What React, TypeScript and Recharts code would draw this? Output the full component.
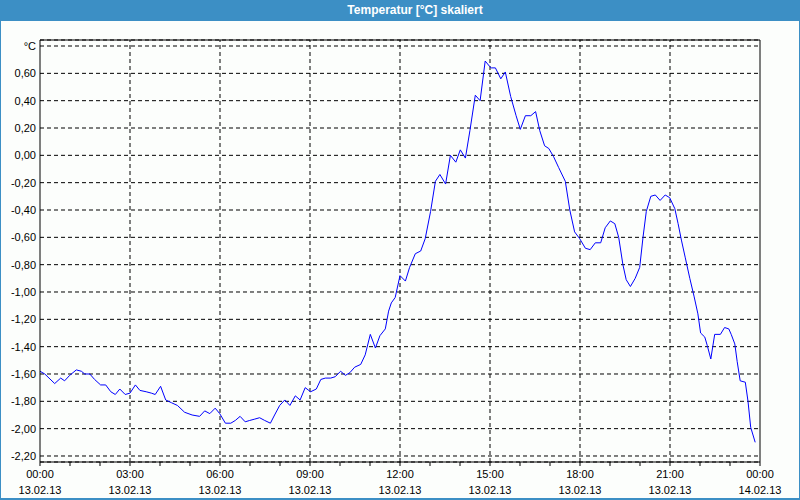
import React from "react";
import { LineChart, Line, XAxis, YAxis, CartesianGrid, ReferenceLine } from "recharts";

const chartTitle = "Temperatur [°C] skaliert";

// hours since 13.02.13 00:00
const times = [
  0.0, 0.16, 0.49, 0.69, 0.82, 0.99, 1.21, 1.38, 1.49, 1.66, 1.82, 2.02, 2.19, 2.36, 2.51, 2.66, 2.84,
  3.0, 3.18, 3.33, 3.54, 3.71, 3.84, 4.02, 4.19, 4.38, 4.58, 4.82, 5.07, 5.32, 5.49, 5.66, 5.84, 5.99,
  6.18, 6.36, 6.51, 6.67, 6.84, 6.99, 7.16, 7.32, 7.49, 7.68, 7.82, 7.99, 8.16, 8.33, 8.51, 8.67, 8.84,
  9.02, 9.21, 9.36, 9.51, 9.69, 9.84, 10.02, 10.18, 10.33, 10.49, 10.69, 10.84, 11.01, 11.18, 11.33,
  11.51, 11.62, 11.71, 11.84, 12.0, 12.18, 12.32, 12.51, 12.69, 12.84, 13.02, 13.18, 13.33, 13.52,
  13.68, 13.86, 14.01, 14.18, 14.33, 14.51, 14.67, 14.84, 14.99, 15.04, 15.18, 15.36, 15.51, 15.69,
  15.87, 16.01, 16.18, 16.36, 16.52, 16.66, 16.82, 16.96, 17.12, 17.29, 17.51, 17.66, 17.82, 17.99,
  18.18, 18.34, 18.51, 18.69, 18.84, 19.01, 19.16, 19.29, 19.43, 19.54, 19.68, 19.84, 19.99, 20.1,
  20.21, 20.36, 20.51, 20.67, 20.84, 20.99, 21.16, 21.27, 21.38, 21.51, 21.66, 21.8, 21.93, 22.02,
  22.16, 22.24, 22.36, 22.49, 22.68, 22.82, 22.96, 23.04, 23.16, 23.24, 23.34, 23.51, 23.6, 23.69,
  23.84,
];

const temps = [
  -1.58, -1.6, -1.67, -1.63, -1.65, -1.61, -1.57, -1.58, -1.6, -1.6, -1.64, -1.68, -1.68, -1.73, -1.75, -1.71, -1.75,
  -1.74, -1.68, -1.72, -1.73, -1.74, -1.75, -1.69, -1.79, -1.81, -1.83, -1.88, -1.9, -1.91, -1.87, -1.89, -1.85, -1.89,
  -1.96, -1.96, -1.94, -1.91, -1.95, -1.94, -1.93, -1.92, -1.94, -1.96, -1.9, -1.83, -1.79, -1.83, -1.76, -1.79, -1.7,
  -1.73, -1.71, -1.64, -1.63, -1.63, -1.62, -1.58, -1.61, -1.59, -1.55, -1.53, -1.46, -1.31, -1.41, -1.32,
  -1.27, -1.14, -1.08, -1.04, -0.88, -0.92, -0.82, -0.72, -0.7, -0.61, -0.41, -0.19, -0.14, -0.21,
  0.0, -0.05, 0.04, -0.02, 0.18, 0.44, 0.4, 0.69, 0.65, 0.64, 0.64, 0.56, 0.61, 0.43,
  0.29, 0.19, 0.29, 0.29, 0.32, 0.18, 0.07, 0.05, -0.01, -0.09, -0.19, -0.4, -0.56, -0.61,
  -0.68, -0.69, -0.64, -0.64, -0.53, -0.48, -0.5, -0.6, -0.8, -0.91, -0.96, -0.9, -0.82, -0.6,
  -0.41, -0.3, -0.29, -0.33, -0.29, -0.31, -0.39, -0.5, -0.62, -0.75, -0.9, -1.03, -1.16, -1.3,
  -1.33, -1.39, -1.49, -1.31, -1.31, -1.26, -1.27, -1.31, -1.38, -1.51, -1.65, -1.66, -1.8, -1.99,
  -2.1,
];

const xHourTicks = [0, 1, 2, 3, 4, 5, 6, 7, 8, 9, 10, 11, 12, 13, 14, 15, 16, 17, 18, 19, 20, 21, 22, 23, 24];
const xGridHours = [3, 6, 9, 12, 15, 18, 21];
const xTimeLabels = ["00:00", "03:00", "06:00", "09:00", "12:00", "15:00", "18:00", "21:00", "00:00"];
const xDateLabels = ["13.02.13", "13.02.13", "13.02.13", "13.02.13", "13.02.13", "13.02.13", "13.02.13", "13.02.13", "14.02.13"];
const yTicks = [-2.2, -2.0, -1.8, -1.6, -1.4, -1.2, -1.0, -0.8, -0.6, -0.4, -0.2, 0.0, 0.2, 0.4, 0.6, 0.8];
const yDomain: [number, number] = [-2.244, 0.844];
const yUnitLabel = "°C";

const data = times.map((t, i) => ({ t, v: temps[i] }));

const FONT = "'Liberation Sans', Arial, sans-serif";
const BLUE = "#3C8FC5";

const formatY = (v: number) => {
  if (Math.abs(v - 0.8) < 1e-6) return yUnitLabel;
  return v.toFixed(2).replace(".", ",");
};

const XTick = (props: any) => {
  const { x, y, payload } = props;
  const h = Math.round(payload.value);
  if (h % 3 !== 0) return <g />;
  const idx = h / 3;
  return (
    <g>
      <text x={x} y={y} textAnchor="middle" fontSize={11} fontFamily={FONT} fill="#000">
        <tspan x={x} dy={10}>{xTimeLabels[idx]}</tspan>
        <tspan x={x} dy={16}>{xDateLabels[idx]}</tspan>
      </text>
    </g>
  );
};

export default function App() {
  return (
    <div
      style={{
        position: "fixed",
        left: 0,
        top: 0,
        width: 800,
        height: 500,
        background: "#FCFEFC",
        overflow: "hidden",
      }}
    >
      <div
        style={{
          position: "absolute",
          left: 0,
          top: 0,
          width: 800,
          height: 21,
          background: BLUE,
          color: "#fff",
          fontFamily: FONT,
          fontWeight: "bold",
          fontSize: 12,
          lineHeight: "21px",
        }}
      >
        <span style={{ position: "absolute", left: 415, transform: "translateX(-50%)", whiteSpace: "nowrap" }}>
          {chartTitle}
        </span>
      </div>
      <div
        style={{
          position: "absolute",
          left: 0,
          top: 0,
          width: 800,
          height: 500,
          boxSizing: "border-box",
          borderLeft: `1px solid ${BLUE}`,
          borderRight: `1px solid ${BLUE}`,
          borderBottom: `2px solid ${BLUE}`,
          pointerEvents: "none",
        }}
      />
      <LineChart
        width={800}
        height={500}
        data={data}
        margin={{ top: 40, right: 40, bottom: 2, left: 8 }}
      >
        <CartesianGrid horizontal={true} vertical={false} stroke="#000" strokeDasharray="4 3" />
        {xGridHours.map((h) => (
          <ReferenceLine key={h} x={h} stroke="#000" strokeDasharray="4 3" />
        ))}
        <ReferenceLine y={yDomain[1]} stroke="#000" />
        <ReferenceLine x={24} stroke="#000" />
        <XAxis
          dataKey="t"
          type="number"
          domain={[0, 24]}
          ticks={xHourTicks}
          interval={0}
          height={36}
          tickSize={4}
          tickMargin={2}
          axisLine={{ stroke: "#000" }}
          tickLine={{ stroke: "#000" }}
          tick={<XTick />}
          allowDataOverflow
        />
        <YAxis
          type="number"
          domain={yDomain}
          ticks={yTicks}
          interval={0}
          width={32}
          tickSize={2}
          tickMargin={2}
          tickLine={false}
          axisLine={{ stroke: "#000" }}
          tick={{ fill: "#000", fontSize: 11, fontFamily: FONT }}
          tickFormatter={formatY}
          allowDataOverflow
        />
        <Line
          type="linear"
          dataKey="v"
          stroke="#0000FF"
          strokeWidth={1}
          dot={false}
          isAnimationActive={false}
        />
      </LineChart>
    </div>
  );
}
